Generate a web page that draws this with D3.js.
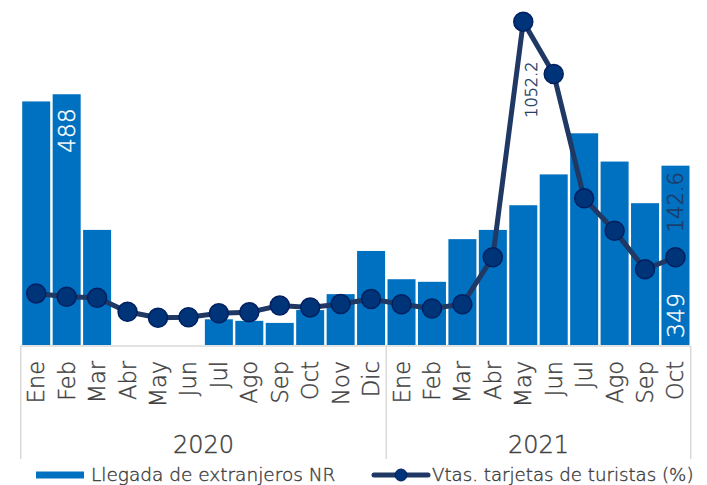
<!DOCTYPE html>
<html>
<head>
<meta charset="utf-8">
<script src="https://cdn.jsdelivr.net/npm/d3@7"></script>
<style>
  body { margin: 0; background: #fff; }
  svg { display: block; font-family: "DejaVu Sans", sans-serif; font-weight: 200; }
  text { stroke-width: 0.4px; }
</style>
</head>
<body>
<svg width="707" height="485"></svg>
<script>
const width = 707;
const height = 485;

// Datos
const months = ["Ene", "Feb", "Mar", "Abr", "May", "Jun", "Jul", "Ago", "Sep", "Oct", "Nov", "Dic",
                "Ene", "Feb", "Mar", "Abr", "May", "Jun", "Jul", "Ago", "Sep", "Oct"];
const years = ["2020", "2021"];
const yearSpan = [12, 10];
const llegadas = [474, 488, 224, 0, 0, 0, 50, 47, 43, 68, 99, 183,
                  128, 123, 206, 224, 272, 332, 412, 357, 276, 349];
const tarjetas = [3, -10, -14, -68, -91, -89, -74, -70, -44, -51, -38, -19,
                  -39, -55, -39, 143, 1052.2, 850, 370, 245, 96, 142.6];
const seriesNames = ["Llegada de extranjeros NR", "Vtas. tarjetas de turistas (%)"];

const colors = {
  bar: "#0070c0",
  line: "#203864",
  marker: "#003478",
  markerStroke: "#002060",
  text: "#404040",
  axis: "#d9d9d9"
};

const svg = d3.select("svg");

const idx = months.map((d, i) => i);
const x = d3.scaleBand().domain(idx).range([21, 690.7]).paddingInner(0.08).paddingOuter(0.04);
const yBar = d3.scaleLinear().domain([0, 600]).range([345, 36.7]);
const yLine = d3.scaleLinear().domain([-200, 1100]).range([346, 9.3]);

// Barras
svg.append("g")
  .selectAll("rect")
  .data(llegadas)
  .join("rect")
  .attr("x", (d, i) => x(i))
  .attr("width", x.bandwidth())
  .attr("y", d => yBar(d))
  .attr("height", d => yBar(0) - yBar(d))
  .attr("fill", colors.bar);

// Eje x
const axisY = 346;
svg.append("line")
  .attr("x1", 21).attr("x2", 690.7)
  .attr("y1", axisY).attr("y2", axisY)
  .attr("stroke", colors.axis).attr("stroke-width", 1.5);

// separadores de año
let acc = 0;
const bounds = [x(0) - x.step() * x.paddingInner() / 2 - 0.3];
yearSpan.forEach(n => {
  acc += n;
  const last = acc - 1;
  bounds.push(x(last) + x.bandwidth() + x.step() * x.paddingInner() / 2);
});
bounds[bounds.length - 1] = 690.7;
svg.append("g")
  .selectAll("line")
  .data(bounds)
  .join("line")
  .attr("x1", d => d).attr("x2", d => d)
  .attr("y1", axisY).attr("y2", 459)
  .attr("stroke", colors.axis).attr("stroke-width", 1.5);

// Etiquetas de meses
svg.append("g")
  .selectAll("text")
  .data(months)
  .join("text")
  .attr("transform", (d, i) => `translate(${x(i) + x.bandwidth() / 2 + 8},361) rotate(-90)`)
  .attr("text-anchor", "end")
  .style("font-size", "22.5px")
  .attr("fill", colors.text)
  .attr("stroke", colors.text)
  .text(d => d);

// Etiquetas de años
svg.append("g")
  .selectAll("text")
  .data(years)
  .join("text")
  .attr("x", (d, i) => (bounds[i] + bounds[i + 1]) / 2)
  .attr("y", 453)
  .attr("text-anchor", "middle")
  .style("font-size", "24px")
  .attr("fill", colors.text)
  .attr("stroke", colors.text)
  .text(d => d);

// Línea
const cx = i => x(i) + x.bandwidth() / 2;
const line = d3.line().x((d, i) => cx(i)).y(d => yLine(d));
svg.append("path")
  .datum(tarjetas)
  .attr("d", line)
  .attr("fill", "none")
  .attr("stroke", colors.line)
  .attr("stroke-width", 5);

svg.append("g")
  .selectAll("circle")
  .data(tarjetas)
  .join("circle")
  .attr("cx", (d, i) => cx(i))
  .attr("cy", d => yLine(d))
  .attr("r", 9.5)
  .attr("fill", colors.marker)
  .attr("stroke", colors.markerStroke)
  .attr("stroke-width", 1.5);

// Etiquetas de datos
const feb = 1, oct = 21, may21 = 16;
svg.append("text")
  .attr("transform", `translate(${cx(feb) + 8.5},${yBar(llegadas[feb]) + 14}) rotate(-90)`)
  .attr("text-anchor", "end")
  .style("font-size", "23.5px")
  .attr("fill", "#fff").attr("stroke", "#fff")
  .text(llegadas[feb]);

svg.append("text")
  .attr("transform", `translate(${cx(oct) + 8.5},${yBar(0) - 7}) rotate(-90)`)
  .attr("text-anchor", "start")
  .style("font-size", "23.5px")
  .attr("fill", "#fff").attr("stroke", "#fff")
  .text(llegadas[oct]);

svg.append("text")
  .attr("transform", `translate(${cx(oct) + 8},${yLine(tarjetas[oct]) - 25}) rotate(-90)`)
  .attr("text-anchor", "start")
  .style("font-size", "21px")
  .attr("fill", colors.line).attr("stroke", colors.line)
  .text(d3.format(".1f")(tarjetas[oct]));

svg.append("text")
  .attr("transform", `translate(${cx(may21) + 14},${yLine(tarjetas[may21]) + 40}) rotate(-90)`)
  .attr("text-anchor", "end")
  .style("font-size", "16px")
  .attr("fill", colors.line).attr("stroke", colors.line)
  .text(d3.format(".1f")(tarjetas[may21]));

// Leyenda
const legY = 475;
const leg = svg.append("g");
leg.append("rect")
  .attr("x", 36).attr("y", legY - 3.5)
  .attr("width", 48).attr("height", 7)
  .attr("fill", colors.bar);
leg.append("text")
  .attr("x", 91).attr("y", legY).attr("dy", "0.35em")
  .style("font-size", "18.5px")
  .attr("fill", colors.text).attr("stroke", colors.text)
  .text(seriesNames[0]);
leg.append("line")
  .attr("x1", 374).attr("x2", 428)
  .attr("y1", legY).attr("y2", legY)
  .attr("stroke", colors.line).attr("stroke-width", 5).attr("stroke-linecap", "round");
leg.append("circle")
  .attr("cx", 401).attr("cy", legY).attr("r", 6)
  .attr("fill", colors.marker).attr("stroke", colors.markerStroke).attr("stroke-width", 1);
leg.append("text")
  .attr("x", 432).attr("y", legY).attr("dy", "0.35em")
  .style("font-size", "18.2px")
  .attr("fill", colors.text).attr("stroke", colors.text)
  .text(seriesNames[1]);
</script>
</body>
</html>
